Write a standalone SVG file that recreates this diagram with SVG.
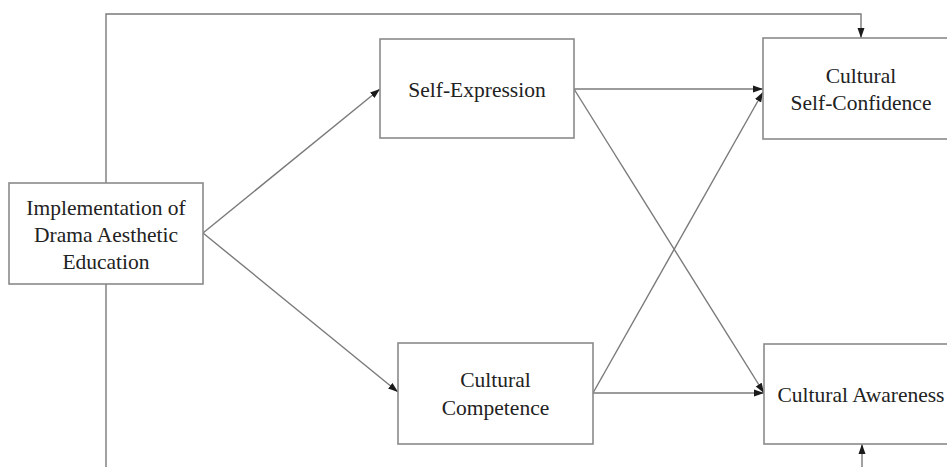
<svg xmlns="http://www.w3.org/2000/svg" width="947" height="467" viewBox="0 0 947 467">
<style>
.box{fill:#fff;stroke:#8a8a8a;stroke-width:1.6}
.lbl{font-size:21.5px;fill:#222;text-anchor:middle}
.edge{fill:none;stroke:#7a7a7a;stroke-width:1.4}
</style>
<defs>
<marker id="ah" markerUnits="userSpaceOnUse" markerWidth="10" markerHeight="8" refX="10" refY="4" orient="auto">
<path d="M0,0.5 L10,4 L0,7.5 z" fill="#1a1a1a"/>
</marker>
</defs>
<rect width="947" height="467" fill="#fff"/>
<g id="connectors">
<path class="edge" d="M106,183 V14 H861 V38" marker-end="url(#ah)"/>
<path class="edge" d="M106,284 V480 H862 V444" marker-end="url(#ah)"/>
<line class="edge" x1="203" y1="233" x2="380" y2="89" marker-end="url(#ah)"/>
<line class="edge" x1="203" y1="233" x2="398" y2="392" marker-end="url(#ah)"/>
<line class="edge" x1="574" y1="89" x2="763" y2="89" marker-end="url(#ah)"/>
<line class="edge" x1="574" y1="89" x2="764" y2="393" marker-end="url(#ah)"/>
<line class="edge" x1="593" y1="393" x2="763" y2="92" marker-end="url(#ah)"/>
<line class="edge" x1="593" y1="393" x2="764" y2="393" marker-end="url(#ah)"/>
</g>
<g font-family="'Liberation Serif', 'DejaVu Serif', serif">
<g id="node-implementation">
<rect class="box" x="9" y="183" width="194" height="101"/>
<text class="lbl" x="106" y="215">Implementation of</text>
<text class="lbl" x="106" y="242">Drama Aesthetic</text>
<text class="lbl" x="106" y="269">Education</text>
</g>
<g id="node-self-expression">
<rect class="box" x="380" y="39" width="194" height="99"/>
<text class="lbl" x="477" y="97">Self-Expression</text>
</g>
<g id="node-cultural-competence">
<rect class="box" x="398" y="343" width="195" height="101"/>
<text class="lbl" x="495.5" y="387">Cultural</text>
<text class="lbl" x="495.5" y="415">Competence</text>
</g>
<g id="node-cultural-self-confidence">
<rect class="box" x="763" y="38" width="196" height="101"/>
<text class="lbl" x="861" y="83">Cultural</text>
<text class="lbl" x="861" y="110">Self-Confidence</text>
</g>
<g id="node-cultural-awareness">
<rect class="box" x="764" y="344" width="196" height="100"/>
<text class="lbl" x="861" y="402">Cultural Awareness</text>
</g>
</g>
</svg>
